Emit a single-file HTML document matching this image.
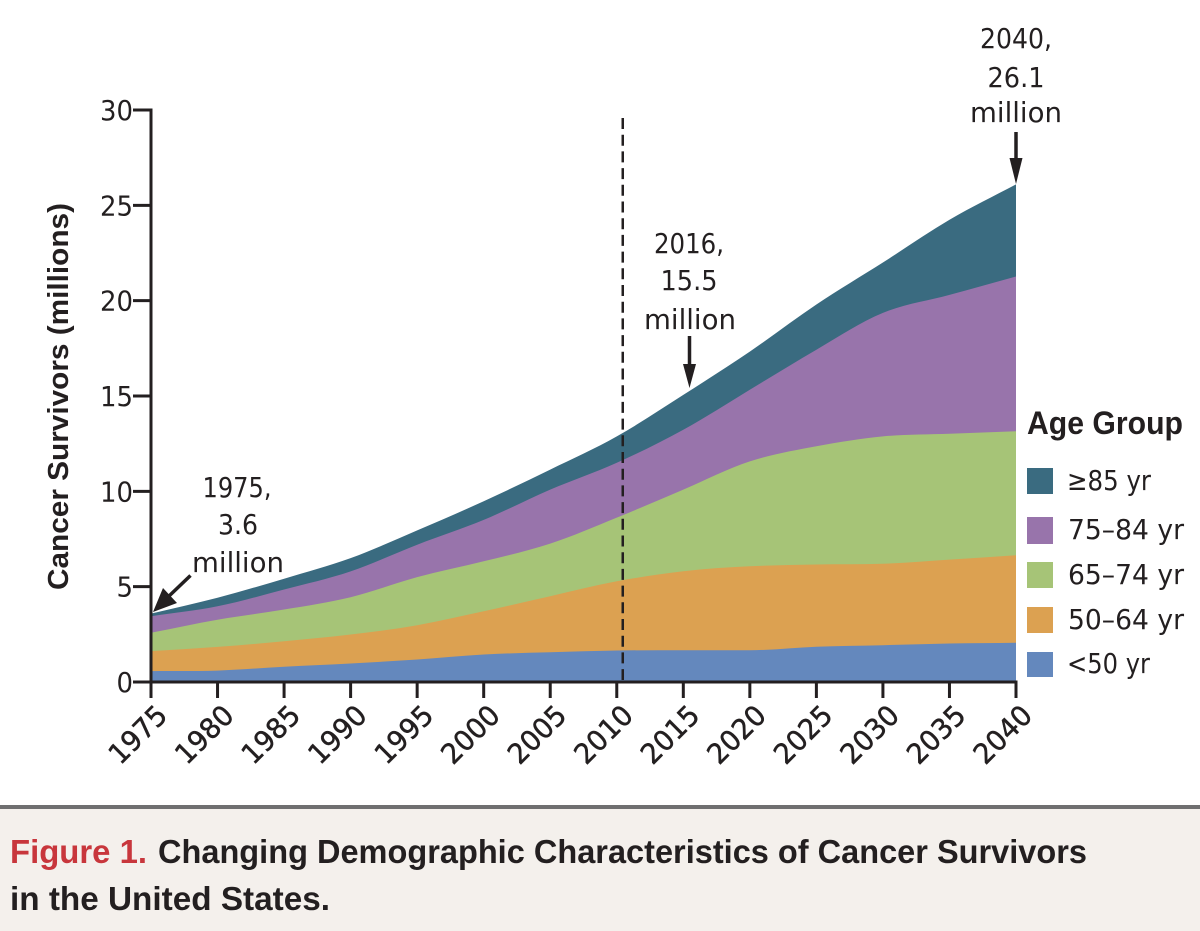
<!DOCTYPE html>
<html lang="en">
<head>
<meta charset="utf-8">
<title>Changing Demographic Characteristics of Cancer Survivors</title>
<style>
html,body{margin:0;padding:0;background:#fff;}
svg{display:block;}
.num{font-family:"DejaVu Sans","Liberation Sans",sans-serif;fill:#231f20;font-size:28px;}
.bold{font-family:"Liberation Sans",sans-serif;font-weight:bold;fill:#231f20;}
</style>
</head>
<body>
<svg id="chart" xmlns="http://www.w3.org/2000/svg" width="1200" height="931" viewBox="0 0 1200 931">
  <rect x="0" y="807" width="1200" height="124" fill="#f4f0ec"/>
  <rect x="0" y="805" width="1200" height="4" fill="#6f6f70"/>
  <g id="areas"></g>
  <g id="axes"></g>

  <text class="bold" transform="translate(68,590) rotate(-90)" font-size="29" textLength="387" lengthAdjust="spacingAndGlyphs">Cancer Survivors (millions)</text>

  <g id="annotations">
    <g text-anchor="middle">
      <text class="num" x="237" y="497" textLength="69" lengthAdjust="spacingAndGlyphs">1975,</text>
      <text class="num" x="238" y="534" textLength="40" lengthAdjust="spacingAndGlyphs">3.6</text>
      <text class="num" x="238" y="572" textLength="92" lengthAdjust="spacingAndGlyphs">million</text>
    </g>
    <g text-anchor="middle">
      <text class="num" x="689" y="253" textLength="70" lengthAdjust="spacingAndGlyphs">2016,</text>
      <text class="num" x="689" y="290" textLength="57" lengthAdjust="spacingAndGlyphs">15.5</text>
      <text class="num" x="690" y="329" textLength="92" lengthAdjust="spacingAndGlyphs">million</text>
    </g>
    <g text-anchor="middle">
      <text class="num" x="1016" y="48" textLength="72" lengthAdjust="spacingAndGlyphs">2040,</text>
      <text class="num" x="1016" y="87" textLength="57" lengthAdjust="spacingAndGlyphs">26.1</text>
      <text class="num" x="1016" y="122" textLength="92" lengthAdjust="spacingAndGlyphs">million</text>
    </g>
    <g fill="#231f20">
      <line x1="190.5" y1="575.5" x2="168" y2="597" stroke="#231f20" stroke-width="3.5"/>
      <polygon points="153,612 163,588 177,603"/>
    </g>
    <g fill="#231f20">
      <line x1="689.5" y1="336" x2="689.5" y2="366" stroke="#231f20" stroke-width="3.5"/>
      <polygon points="689.5,388 683,364 696,364"/>
    </g>
    <g fill="#231f20">
      <line x1="1016" y1="132" x2="1016" y2="160" stroke="#231f20" stroke-width="3.5"/>
      <polygon points="1016,184 1009.5,158 1022.5,158"/>
    </g>
  </g>

  <g id="legend">
    <text class="bold" x="1027" y="434" font-size="32" textLength="156" lengthAdjust="spacingAndGlyphs">Age Group</text>
    <g>
      <rect x="1027" y="468" width="26" height="26" fill="#3a6b80"/>
      <text class="num" x="1067" y="490" textLength="84" lengthAdjust="spacingAndGlyphs">≥85 yr</text>
    </g>
    <g>
      <rect x="1027" y="517" width="26" height="27" fill="#9874ab"/>
      <text class="num" x="1068" y="539" textLength="116" lengthAdjust="spacingAndGlyphs">75–84 yr</text>
    </g>
    <g>
      <rect x="1027" y="562" width="26" height="26" fill="#a6c477"/>
      <text class="num" x="1068" y="584" textLength="116" lengthAdjust="spacingAndGlyphs">65–74 yr</text>
    </g>
    <g>
      <rect x="1027" y="607" width="26" height="26" fill="#dca151"/>
      <text class="num" x="1068" y="629" textLength="116" lengthAdjust="spacingAndGlyphs">50–64 yr</text>
    </g>
    <g>
      <rect x="1027" y="652" width="26" height="25" fill="#6488bd"/>
      <text class="num" x="1067" y="673" textLength="83" lengthAdjust="spacingAndGlyphs">&lt;50 yr</text>
    </g>
  </g>

  <g>
    <text class="bold" x="10" y="863" font-size="33" textLength="137" lengthAdjust="spacingAndGlyphs" style="fill:#c8363c">Figure 1.</text>
    <text class="bold" x="158" y="863" font-size="33" textLength="929" lengthAdjust="spacingAndGlyphs">Changing Demographic Characteristics of Cancer Survivors</text>
    <text class="bold" x="10" y="910" font-size="33" textLength="320" lengthAdjust="spacingAndGlyphs">in the United States.</text>
  </g>
</svg>
<script>
const years = [1975,1980,1985,1990,1995,2000,2005,2010,2015,2020,2025,2030,2035,2040];
const under50 = [0.57,0.60,0.80,0.97,1.18,1.44,1.56,1.65,1.67,1.67,1.85,1.93,2.02,2.06];
const age50to64 = [1.05,1.24,1.34,1.52,1.80,2.27,2.94,3.63,4.14,4.40,4.31,4.27,4.40,4.59];
const age65to74 = [0.96,1.43,1.66,1.96,2.52,2.62,2.76,3.34,4.28,5.50,6.20,6.68,6.60,6.50];
const age75to84 = [0.87,0.70,1.05,1.35,1.70,2.17,2.83,2.88,3.14,3.76,5.07,6.48,7.28,8.12];
const age85plus = [0.14,0.45,0.57,0.70,0.75,0.98,1.05,1.38,1.83,2.00,2.37,2.64,3.94,4.83];
const yTicks = [0,5,10,15,20,25,30];
const xTicks = [1975,1980,1985,1990,1995,2000,2005,2010,2015,2020,2025,2030,2035,2040];

const NS = 'http://www.w3.org/2000/svg';
function xScale(v){ return 151 + (v - 1975) * (1016 - 151) / 65; }
function yScale(v){ return 682 - v * (682 - 110) / 30; }
function make(tag, attrs, parent){
  const el = document.createElementNS(NS, tag);
  for (const k in attrs) el.setAttribute(k, attrs[k]);
  parent.appendChild(el);
  return el;
}
/* Monotone cubic curve through the given screen points. */
function curve(px, py){
  const n = px.length;
  const d = [], m = [];
  for (let i = 0; i < n - 1; i++) d.push((py[i + 1] - py[i]) / (px[i + 1] - px[i]));
  m[0] = d[0];
  m[n - 1] = d[n - 2];
  for (let i = 1; i < n - 1; i++) m[i] = d[i - 1] * d[i] <= 0 ? 0 : (d[i - 1] + d[i]) / 2;
  let s = 'M' + px[0].toFixed(1) + ',' + py[0].toFixed(1);
  for (let i = 0; i < n - 1; i++) {
    const h = (px[i + 1] - px[i]) / 3;
    s += 'C' + (px[i] + h).toFixed(1) + ',' + (py[i] + m[i] * h).toFixed(1) + ' ' +
         (px[i + 1] - h).toFixed(1) + ',' + (py[i + 1] - m[i + 1] * h).toFixed(1) + ' ' +
         px[i + 1].toFixed(1) + ',' + py[i + 1].toFixed(1);
  }
  return s;
}

const areasG = document.getElementById('areas');
const axesG = document.getElementById('axes');
const layers = [
  {values: under50, color: '#6488bd'},
  {values: age50to64, color: '#dca151'},
  {values: age65to74, color: '#a6c477'},
  {values: age75to84, color: '#9874ab'},
  {values: age85plus, color: '#3a6b80'}
];
const layerNames = ['area-under-50','area-50-64','area-65-74','area-75-84','area-85-plus'];
let base = years.map(function(){ return 0; });
const stacked = layers.map(function(layer){
  base = base.map(function(b, j){ return b + layer.values[j]; });
  return base;
});
const xPix = years.map(xScale);
for (let i = layers.length - 1; i >= 0; i--) {
  const yPix = stacked[i].map(yScale);
  const d = curve(xPix, yPix) + 'L' + xScale(2040) + ',' + yScale(0) + 'L' + xScale(1975) + ',' + yScale(0) + 'Z';
  const area = make('path', {d: d, fill: layers[i].color}, areasG);
  
  
}

const dash = make('line', {x1: xScale(2010.45), x2: xScale(2010.45), y1: 118, y2: 680, stroke: '#231f20', 'stroke-width': 2.5, 'stroke-dasharray': '11 5.7'}, axesG);



const yAxis = make('line', {x1: 151, x2: 151, y1: 108.5, y2: 698, stroke: '#231f20', 'stroke-width': 3}, axesG);


const xAxis = make('line', {x1: 149.5, x2: 1017.5, y1: 682, y2: 682, stroke: '#231f20', 'stroke-width': 3}, axesG);



yTicks.forEach(function(t){
  const tick = make('line', {x1: 133, x2: 151, y1: yScale(t), y2: yScale(t), stroke: '#231f20', 'stroke-width': 3}, axesG);
  
  
  const label = make('text', {x: 133, y: yScale(t) + 10, 'text-anchor': 'end', 'class': 'num', textLength: String(t).length * 16.5, lengthAdjust: 'spacingAndGlyphs'}, axesG);
  
  
  label.textContent = t;
});

xTicks.forEach(function(t){
  const px = xScale(t);
  const tick = make('line', {x1: px, x2: px, y1: 682, y2: 698, stroke: '#231f20', 'stroke-width': 3}, axesG);
  
  
  const label = make('text', {'text-anchor': 'end', 'class': 'num', textLength: 69, lengthAdjust: 'spacingAndGlyphs', stroke: '#231f20', 'stroke-width': 0.5, transform: 'translate(' + (px + 18) + ',717) rotate(-45)'}, axesG);
  
  
  label.textContent = t;
});
</script>
</body>
</html>
